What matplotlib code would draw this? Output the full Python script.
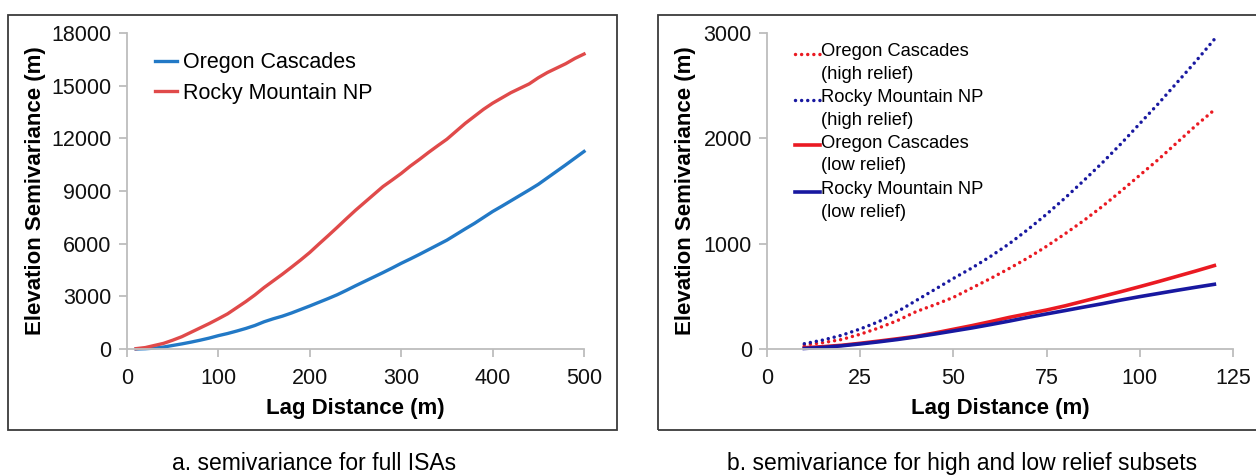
import matplotlib.pyplot as plt
from matplotlib.patches import Rectangle

plt.rcParams['font.family'] = ['Liberation Sans', 'DejaVu Sans']

# panel a: full ISAs
lag_full = list(range(10, 501, 10))
oregon_full = [0, 15, 50, 110, 200, 290, 390, 500, 620, 760,
               880, 1020, 1170, 1340, 1550, 1720, 1870, 2050, 2250, 2450,
               2660, 2870, 3090, 3340, 3600, 3850, 4100, 4350, 4610, 4880,
               5130, 5390, 5660, 5930, 6200, 6520, 6840, 7150, 7490, 7830,
               8130, 8440, 8750, 9060, 9380, 9750, 10120, 10490, 10870, 11250]
rocky_full = [20, 80, 200, 320, 500, 700, 950, 1200, 1450, 1720,
              2000, 2350, 2700, 3080, 3500, 3880, 4260, 4660, 5070, 5500,
              5980, 6450, 6930, 7420, 7900, 8350, 8800, 9250, 9620, 10000,
              10420, 10800, 11200, 11580, 11950, 12400, 12850, 13250, 13650, 14000,
              14300, 14600, 14850, 15100, 15450, 15750, 16000, 16250, 16550, 16800]

# panel b: high / low relief subsets
lag_sub = list(range(10, 121, 5))
oregon_high = [38, 60, 90, 140, 200, 270, 355, 420, 490, 580, 670, 765,
               865, 975, 1095, 1220, 1355, 1500, 1650, 1800, 1960, 2120, 2270]
rocky_high = [50, 85, 130, 190, 260, 355, 460, 565, 670, 770, 880, 1000,
              1135, 1280, 1435, 1600, 1770, 1950, 2140, 2330, 2530, 2730, 2940]
oregon_low = [12, 22, 35, 54, 75, 97, 120, 152, 187, 222, 260, 300,
              335, 370, 410, 455, 500, 545, 592, 640, 690, 740, 792]
rocky_low = [5, 15, 30, 48, 68, 90, 115, 142, 171, 200, 232, 265,
             300, 333, 365, 398, 430, 465, 497, 527, 557, 586, 614]

RED = '#ea1a22'
NAVY = '#1818a0'
DOTS = (0, (0.01, 1.75))

fig = plt.figure(figsize=(12.56, 4.75), dpi=100)

# outer boxes around each panel
fig.patches.append(Rectangle((0.0064, 0.0947), 0.485, 0.874, transform=fig.transFigure,
                             fill=False, edgecolor='#3a3a3a', lw=1.3))
fig.patches.append(Rectangle((0.524, 0.0947), 0.48, 0.874, transform=fig.transFigure,
                             fill=False, edgecolor='#3a3a3a', lw=1.3))

ax1 = fig.add_axes([0.1011, 0.2653, 0.3639, 0.6653])
ax2 = fig.add_axes([0.6107, 0.2653, 0.3710, 0.6653])


def style_axes(ax):
    for side in ['top', 'right']:
        ax.spines[side].set_visible(False)
    for side in ['left', 'bottom']:
        ax.spines[side].set_color('#bdbdbd')
        ax.spines[side].set_linewidth(1.3)
    ax.tick_params(axis='both', colors='#bdbdbd', labelcolor='#111111',
                   labelsize=15.5, length=6, width=1.3, direction='out')
    ax.tick_params(axis='x', pad=8)
    ax.tick_params(axis='y', pad=5)


# left panel
ax1.plot(lag_full, oregon_full, color='#2279c6', lw=2.4, clip_on=False,
         label='Oregon Cascades')
ax1.plot(lag_full, rocky_full, color='#e04a4a', lw=2.4, clip_on=False,
         label='Rocky Mountain NP')
ax1.set_xlim(0, 500)
ax1.set_ylim(0, 18000)
ax1.set_xticks(range(0, 501, 100))
ax1.set_yticks(range(0, 18001, 3000))
style_axes(ax1)
ax1.set_xlabel('Lag Distance (m)', fontsize=16, fontweight='bold', labelpad=6)
ax1.set_ylabel('Elevation Semivariance (m)', fontsize=16, fontweight='bold', labelpad=4)
ax1.legend(loc='upper left', bbox_to_anchor=(0.02, 1.0), frameon=False,
           fontsize=15.5, handlelength=1.0, handletextpad=0.3, labelspacing=0.45)

# right panel
ax2.plot(lag_sub, oregon_high, color=RED, lw=2.5, ls=DOTS,
         dash_capstyle='round', clip_on=False)
ax2.plot(lag_sub, rocky_high, color=NAVY, lw=2.5, ls=DOTS,
         dash_capstyle='round', clip_on=False)
ax2.plot(lag_sub, oregon_low, color=RED, lw=2.6, clip_on=False)
ax2.plot(lag_sub, rocky_low, color=NAVY, lw=2.6, clip_on=False)
ax2.set_xlim(0, 125)
ax2.set_ylim(0, 3000)
ax2.set_xticks(range(0, 126, 25))
ax2.set_yticks(range(0, 3001, 1000))
style_axes(ax2)
ax2.set_xlabel('Lag Distance (m)', fontsize=16, fontweight='bold', labelpad=6)
ax2.set_ylabel('Elevation Semivariance (m)', fontsize=16, fontweight='bold', labelpad=5)

# legend with the handle aligned to the first text line
entries = [('Oregon Cascades\n(high relief)', RED, DOTS, 2.5),
           ('Rocky Mountain NP\n(high relief)', NAVY, DOTS, 2.5),
           ('Oregon Cascades\n(low relief)', RED, '-', 2.6),
           ('Rocky Mountain NP\n(low relief)', NAVY, '-', 2.6)]
row_y = [0.935, 0.789, 0.644, 0.498]
for (label, color, ls, lw), y in zip(entries, row_y):
    ax2.plot([0.06, 0.113], [y, y], transform=ax2.transAxes, color=color, ls=ls,
             lw=lw, dash_capstyle='round', clip_on=False)
    ax2.text(0.116, y + 0.033, label, transform=ax2.transAxes, fontsize=13.2,
             va='top', ha='left', linespacing=1.42)

fig.text(0.250, 0.025, 'a. semivariance for full ISAs', fontsize=16.5,
         ha='center', va='center')
fig.text(0.766, 0.025, 'b. semivariance for high and low relief subsets', fontsize=16.5,
         ha='center', va='center')

fig.savefig('out.png', dpi=100)
